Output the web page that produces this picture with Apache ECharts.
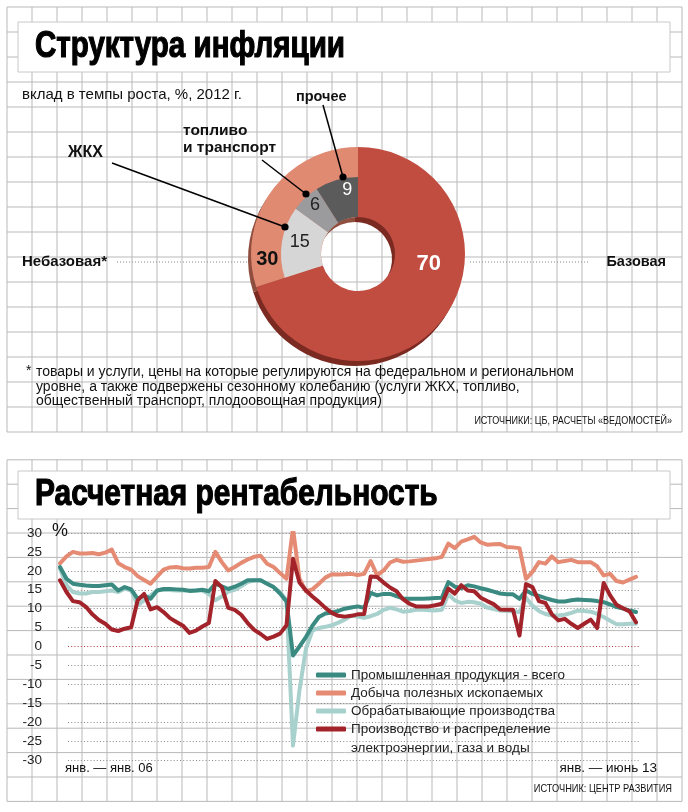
<!DOCTYPE html>
<html><head><meta charset="utf-8">
<script src="https://cdn.jsdelivr.net/npm/echarts@6/dist/echarts.min.js"></script>
<style>html,body{margin:0;padding:0;background:#fff}#c{width:688px;height:812px}</style>
</head><body><div id="c"></div>
<script>
// ---------- DATA ----------
const pieBaseNames = ['Базовая', 'Небазовая*'];
const pieBaseValues = [70, 30];
const pieNonBaseNames = ['ЖКХ', 'топливо и транспорт', 'прочее'];
const pieNonBaseValues = [15, 6, 9];

const seriesNames = [
  'Промышленная продукция - всего',
  'Добыча полезных ископаемых',
  'Обрабатывающие производства',
  'Производство и распределение электроэнергии, газа и воды'
];
const industry = [21, 17.9, 16.6, 16.3, 16.1, 16, 16, 16.2, 16.4, 14.8, 15.7, 15.1, 12.6, 13.5, 12.6, 14.8, 15.2, 15.2, 15.1, 15, 14.7, 14.8, 15, 14.6, 16.6, 15.9, 15.2, 15.8, 16.6, 17.5, 17.5, 17.5, 16.6, 15.7, 14, 11.9, -2.4, 0, 2.5, 5.5, 7.8, 8.7, 9, 9.4, 10, 10.3, 10.6, 10.2, 14.2, 13.5, 13.9, 13.9, 13.3, 12.7, 12.6, 12.6, 12.6, 12.7, 12.8, 12.9, 17, 15.8, 15.4, 16.2, 15.9, 15.4, 15, 14.5, 14, 13.8, 13.8, 12.6, 14.8, 13.9, 13.4, 12.8, 12.3, 11.9, 11.9, 12.2, 12.4, 12.3, 12.2, 12, 11.7, 11.1, 10.4, 10, 9.5, 9.1];
const mining = [22, 23.8, 25, 24.6, 24.6, 24.7, 24.4, 24.8, 25.6, 22, 21, 20.3, 18.6, 17.6, 16.6, 18.5, 20.3, 20.9, 21, 20.7, 20.6, 20.8, 20.8, 21, 25, 22.3, 20.1, 21, 22.1, 23, 23.7, 24, 21.9, 21, 19.4, 17.9, 31.2, 17.9, 14.6, 15.1, 16.6, 18.2, 19.1, 19, 19.1, 19.2, 18.9, 19.2, 22.6, 18.8, 20.1, 22.2, 22.9, 22.4, 22.5, 22.7, 22.9, 23.1, 23.3, 23.7, 27.2, 26, 27.7, 28.3, 29, 27.5, 26.9, 27, 27.1, 26.3, 26.2, 26, 17.9, 19.7, 22.3, 21.9, 23.8, 22.3, 22.6, 22.9, 22.3, 22.3, 22.3, 21.2, 18.8, 19.2, 17.3, 16.9, 17.7, 18.4];
const manufacturing = [20.6, 16.2, 14.4, 14, 14, 14.4, 14.4, 14.6, 14.8, 14.4, 15.3, 14.8, 10.9, 12.2, 13.5, 14.8, 15, 14.9, 14.8, 14.8, 14.8, 14.8, 14.8, 13.9, 12.2, 13.2, 14.5, 15, 15.9, 17, 17.5, 17.5, 16.6, 15.7, 14.4, 12.2, -26.2, -11.6, -0.6, 4.2, 4.9, 5.2, 5.6, 6.3, 7.1, 8.1, 7.9, 7.6, 8, 8.6, 9.7, 10.2, 9.8, 9.2, 9.4, 9.7, 9.7, 9.6, 9.5, 9.7, 13.8, 12.2, 11.5, 11.8, 11.7, 11.3, 10.3, 9.9, 9.5, 9.4, 9.3, 9.1, 12.9, 10.8, 9.4, 8.6, 8.2, 8.2, 8.4, 8.9, 9.5, 9.4, 9.2, 8.6, 7.8, 6.8, 5.9, 5.9, 6, 6];
const utilities = [17.5, 14.4, 12, 11.7, 10.5, 8.5, 7, 6, 4.5, 4.1, 4.7, 5.1, 12.2, 13.9, 9.8, 10.4, 9.1, 7.5, 6.5, 5.5, 3.6, 4.2, 5.3, 6.2, 17.3, 15.7, 10.2, 9.7, 8.4, 6.2, 4.4, 3.3, 2, 2.6, 3.4, 5.6, 23.2, 16.9, 14.8, 13.2, 11.8, 10.2, 8.9, 8.1, 7.9, 8.1, 8.5, 8.6, 18.5, 18.4, 16.9, 15.6, 14.6, 12.5, 11.3, 10.6, 10.6, 10.6, 10.9, 11.3, 15.3, 14, 16.2, 14.8, 14.6, 12.9, 12, 11.2, 9.8, 9.7, 9.7, 2.9, 16.5, 15.7, 12, 11.5, 8.5, 6.9, 7.3, 6, 4.9, 6, 7.1, 4.9, 16.8, 13.5, 11, 10.1, 9.3, 6.4];
const yMin = -30, yMax = 30, yStep = 5;
const xEndLabels = ['янв. — янв. 06', 'янв. — июнь 13'];
const monthNames = ['янв', 'фев', 'мар', 'апр', 'май', 'июн', 'июл', 'авг', 'сен', 'окт', 'ноя', 'дек'];
const months = [];
for (let y = 2006; y <= 2013; y++) {
  for (let m = 0; m < 12; m++) {
    if (y === 2013 && m > 5) break;
    months.push(monthNames[m] + ' ' + y);
  }
}

// ---------- STYLE ----------
const FONT = '"Liberation Sans", Arial, sans-serif';
const colors = { industry: '#3a8a82', mining: '#e58b73', manuf: '#a8d0cc', util: '#a3232b' };
const pieCenter = [358, 254];

const G = [];
function gline(x1, y1, x2, y2, style, z) {
  G.push({ type: 'line', silent: true, z: z == null ? -10 : z, shape: { x1, y1, x2, y2 }, style });
}
function grect(x, y, w, h, style, z) {
  G.push({ type: 'rect', silent: true, z: z == null ? -5 : z, shape: { x, y, width: w, height: h }, style });
}
function gtext(x, y, t, style, sx) {
  G.push({ type: 'text', silent: true, z: 20, x, y, scaleX: sx || 1,
    style: Object.assign({ text: t, fill: '#111', fontFamily: FONT, fontSize: 13, align: 'left', verticalAlign: 'middle' }, style) });
}
function gdot(x, y) {
  G.push({ type: 'circle', silent: true, z: 20, shape: { cx: x, cy: y, r: 3.6 }, style: { fill: '#000' } });
}

const gridStroke = { stroke: '#b9b9b9', lineWidth: 1 };
// top panel paper grid
for (let k = 0; k <= 27; k++) gline(7 + 25 * k, 7, 7 + 25 * k, 432, gridStroke);
for (let k = 0; k <= 17; k++) gline(7, 7 + 25 * k, 682, 7 + 25 * k, gridStroke);
// bottom panel paper grid
for (let k = 0; k <= 27; k++) gline(7 + 25 * k, 459.8, 7 + 25 * k, 801.4, gridStroke);
for (let k = 0; k <= 14; k++) gline(7, 459.8 + 24.4 * k, 682, 459.8 + 24.4 * k, gridStroke);
// title boxes
grect(18, 22, 652, 50, { fill: '#fff', stroke: '#c8c8c8', lineWidth: 1 });
grect(18, 471, 652, 48, { fill: '#fff', stroke: '#c8c8c8', lineWidth: 1 });

// titles (condensed via horizontal scale, heavy via stroke)
const titleStyle = { fontWeight: 'bold', fontSize: 36, fill: '#000', stroke: '#000', lineWidth: 1.2 };
gtext(35, 47, 'Структура инфляции', titleStyle, 0.82);
gtext(35, 495, 'Расчетная рентабельность', titleStyle, 0.83);

// top panel texts
gtext(22, 95, 'вклад в темпы роста, %, 2012 г.', { fontSize: 15 });
gtext(296, 97, pieNonBaseNames[2], { fontWeight: 'bold', fontSize: 14.5 });
gtext(183, 131, 'топливо', { fontWeight: 'bold', fontSize: 15.5 });
gtext(183, 148, 'и транспорт', { fontWeight: 'bold', fontSize: 15.5 });
gtext(68, 153, pieNonBaseNames[0], { fontWeight: 'bold', fontSize: 16 });
gtext(22, 262, pieBaseNames[1], { fontWeight: 'bold', fontSize: 15 });
gtext(666, 262, pieBaseNames[0], { fontWeight: 'bold', fontSize: 14.5, align: 'right' });
const dotted = { stroke: '#888', lineWidth: 1, lineDash: [1, 2] };
gline(117, 262, 252, 262, dotted, 1);
gline(470, 262, 590, 262, dotted, 1);
// leader lines
const leader = { stroke: '#000', lineWidth: 1.5 };
gline(323, 105, 343, 177, leader, 20); gdot(343, 177);
gline(262, 160, 306, 194, leader, 20); gdot(306, 194);
gline(112, 163, 285, 227, leader, 20); gdot(285, 227);
// footnote
gtext(26, 371, '*', { fontSize: 14 });
gtext(36, 372, 'товары и услуги, цены на которые регулируются на федеральном и региональном', { fontSize: 14 });
gtext(36, 387, 'уровне, а также подвержены сезонному колебанию (услуги ЖКХ, топливо,', { fontSize: 14 });
gtext(36, 401, 'общественный транспорт, плодоовощная продукция)', { fontSize: 14 });
gtext(672, 421, 'ИСТОЧНИКИ: ЦБ, РАСЧЕТЫ «ВЕДОМОСТЕЙ»', { fontSize: 10.5, align: 'right' }, 0.86);

// bottom panel texts
gtext(52, 531, '%', { fontSize: 18 });
gtext(65, 768, xEndLabels[0], { fontSize: 13 });
gtext(657, 768, xEndLabels[1], { fontSize: 13.5, align: 'right' });
gtext(351, 748, 'электроэнергии, газа и воды', { fontSize: 13.5, fill: '#222' });
gtext(672, 789, 'ИСТОЧНИК: ЦЕНТР РАЗВИТИЯ', { fontSize: 10.5, align: 'right' }, 0.88);

// split line colours: zero line red
const splitColors = [];
for (let v = yMin; v <= yMax; v += yStep) splitColors.push(v === 0 ? '#b8373a' : '#8a8a8a');

function lineSeries(name, data, color) {
  return {
    type: 'line', name, data, xAxisIndex: 1, yAxisIndex: 1,
    symbol: 'none', silent: true, smooth: false,
    lineStyle: { color, width: 4, cap: 'round', join: 'round' },
    itemStyle: { color }
  };
}

const option = {
  animation: false,
  backgroundColor: '#fff',
  graphic: G,
  legend: {
    data: seriesNames,
    orient: 'vertical', left: 316, top: 666,
    itemWidth: 30, itemHeight: 5, itemGap: 0, padding: 0,
    icon: 'roundRect', selectedMode: false,
    formatter: n => n === seriesNames[3] ? 'Производство и распределение' : n,
    textStyle: { fontFamily: FONT, fontSize: 13.5, color: '#222', lineHeight: 18 }
  },
  grid: [
    { left: 68, right: 48, top: 533, bottom: 52 },
    { left: 60, right: 52, top: 533, bottom: 52 }
  ],
  xAxis: [
    { gridIndex: 0, type: 'value', min: 0, max: 1, show: false },
    { gridIndex: 1, type: 'category', data: months, boundaryGap: false, show: false }
  ],
  yAxis: [
    { gridIndex: 0, type: 'value', min: yMin, max: yMax, interval: yStep,
      axisLine: { show: false }, axisTick: { show: false },
      axisLabel: { margin: 26, fontFamily: FONT, fontSize: 13.5, color: '#222' },
      splitLine: { show: true, lineStyle: { color: splitColors, width: 1.2, type: [1, 2.2] } } },
    { gridIndex: 1, type: 'value', min: yMin, max: yMax, show: false }
  ],
  series: [
    // 3D edge of donut
    { type: 'pie', silent: true, center: [pieCenter[0] - 3, pieCenter[1] + 5], radius: [37, 107],
      startAngle: 90, clockwise: true, label: { show: false }, labelLine: { show: false }, z: 1,
      data: pieBaseValues.map((v, i) => ({ name: pieBaseNames[i] + ' ', value: v, itemStyle: { color: i === 0 ? '#7b2a22' : '#8f4e3e' } })) },
    // base / non-base
    { type: 'pie', silent: true, center: pieCenter, radius: [37, 107], startAngle: 90, clockwise: true,
      avoidLabelOverlap: false, labelLine: { show: false }, z: 2,
      data: [
        { name: pieBaseNames[0], value: pieBaseValues[0], itemStyle: { color: '#c14c40' },
          label: { show: true, position: 'inside', formatter: '{c}', color: '#fff', fontWeight: 'bold', fontSize: 22, fontFamily: FONT, offset: [10, -34] } },
        { name: pieBaseNames[1], value: pieBaseValues[1], itemStyle: { color: '#e18a72' },
          label: { show: true, position: 'inside', formatter: '{c}', color: '#111', fontWeight: 'bold', fontSize: 20, fontFamily: FONT, offset: [-30, 50] } }
      ] },
    // non-base breakdown
    { type: 'pie', silent: true, center: pieCenter, radius: [37, 77], startAngle: 90, clockwise: true,
      avoidLabelOverlap: false, labelLine: { show: false }, z: 3,
      data: [
        { name: 'base-gap', value: pieBaseValues[0], itemStyle: { color: 'rgba(0,0,0,0)' }, label: { show: false } },
        { name: pieNonBaseNames[0], value: pieNonBaseValues[0], itemStyle: { color: '#d6d6d6' },
          label: { show: true, position: 'inside', formatter: '{c}', color: '#222', fontSize: 18, fontFamily: FONT, offset: [1, -3] } },
        { name: pieNonBaseNames[1], value: pieNonBaseValues[1], itemStyle: { color: '#9b9b9d' },
          label: { show: true, position: 'inside', formatter: '{c}', color: '#222', fontSize: 18, fontFamily: FONT, offset: [-2, -5] } },
        { name: pieNonBaseNames[2], value: pieNonBaseValues[2], itemStyle: { color: '#5b5b5b' },
          label: { show: true, position: 'inside', formatter: '{c}', color: '#fff', fontSize: 18, fontFamily: FONT, offset: [6, -6] } }
      ] },
    lineSeries(seriesNames[1], mining, colors.mining),
    lineSeries(seriesNames[2], manufacturing, colors.manuf),
    lineSeries(seriesNames[0], industry, colors.industry),
    lineSeries(seriesNames[3], utilities, colors.util)
  ]
};

const chart = echarts.init(document.getElementById('c'), null, { renderer: 'canvas' });
chart.setOption(option);
</script></body></html>
